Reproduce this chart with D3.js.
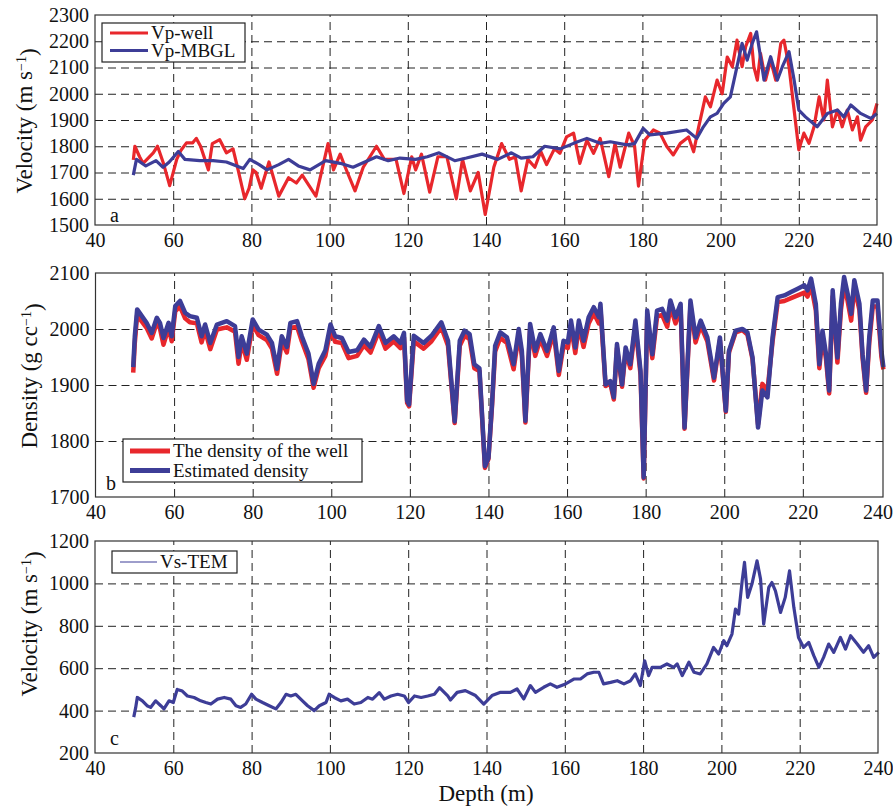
<!DOCTYPE html>
<html>
<head>
<meta charset="utf-8">
<script src="https://cdn.jsdelivr.net/npm/d3@7"></script>
<style>
  body { margin: 0; background: #fff; }
  svg text { font-family: "Liberation Serif", "Times New Roman", serif; fill: #111; }
</style>
</head>
<body>
<div id="chart"></div>
<script>
// panel a: P-wave velocity
var vpWellDepth = [49.8, 50.2, 51.4, 52.3, 54.9, 56, 57.5, 59.1, 60.9, 62, 63.4, 65, 65.9, 67, 69, 70, 71.9, 73.6, 75.3, 76.6,
    78.3, 79.4, 80.4, 81.2, 82.5, 84.5, 87, 89.5, 91.5, 93, 96.5, 99.6, 101, 102.7, 104, 106.5, 108.6, 112, 114, 117,
    119, 121, 122, 123.5, 125.6, 127.7, 130, 132.4, 134, 136, 138, 139.8, 142, 144, 146, 147.5, 149, 150.7, 152.5, 154,
    155.5, 157.5, 158.9, 160.6, 162.4, 164, 165.8, 167.5, 169.2, 171.4, 173, 174.3, 176.5, 178, 179, 180.6, 182.8, 184.5, 186.2, 187.9,
    189.7, 191.8, 193.1, 194.4, 196.1, 197.4, 199.1, 200.4, 201.7, 203, 204.2, 205.5, 206.4, 207.7, 208.5, 209.4, 210.2, 211.5, 212.8, 214.1,
    215.4, 216.2, 217.5, 218.8, 220, 221.3, 222.6, 223.9, 225.2, 226.4, 227.3, 228.6, 229.9, 231.1, 232.4, 233.7, 235, 235.8, 237.1, 238.8, 240];
var vpWell = [1748, 1800, 1760, 1735, 1775, 1800, 1735, 1650, 1750, 1785, 1813, 1813, 1830, 1800, 1710, 1810, 1825, 1775, 1790, 1710,
    1600, 1640, 1710, 1700, 1640, 1740, 1610, 1680, 1660, 1690, 1610, 1810, 1710, 1770, 1720, 1630, 1720, 1800, 1750, 1750,
    1620, 1760, 1710, 1770, 1625, 1760, 1760, 1600, 1750, 1630, 1700, 1540, 1720, 1810, 1750, 1760, 1630, 1750, 1720, 1780,
    1730, 1790, 1773, 1836, 1850, 1735, 1823, 1773, 1830, 1684, 1810, 1720, 1850, 1800, 1648, 1823, 1862, 1850, 1800, 1767,
    1811, 1835, 1779, 1874, 1988, 1950, 2052, 2000, 2140, 2103, 2204, 2103, 2179, 2230, 2103, 2052, 2154, 2052, 2128, 2052,
    2192, 2204, 2103, 1938, 1786, 1850, 1811, 1874, 1988, 1900, 2052, 1874, 1938, 1874, 1938, 1862, 1912, 1823, 1874, 1900, 1963];

var vpMbglDepth = [49.8, 50.6, 53, 55.6, 57.4, 59, 61.3, 63, 66.8, 70.2, 73.6, 77.9, 79.6, 82, 84, 87, 89.5, 92, 95, 99,
    102.7, 106, 109, 112, 115, 118, 122, 125, 128, 132, 135, 139, 143, 146.5, 149, 152, 155, 159, 162.4, 165.8,
    169.2, 171.8, 176, 178, 180.2, 181.9, 186.2, 191.3, 193.9, 195.6, 197.4, 199.1, 200.8, 202.5, 203.8, 205.5, 206.8, 208.1, 209.2, 210.2,
    211.1, 212.8, 214.5, 215.8, 217.5, 218.8, 220, 221.7, 224.7, 227.3, 229.9, 231.5, 233.3, 235.8, 238.4, 240];
var vpMbgl = [1690, 1750, 1725, 1745, 1720, 1740, 1780, 1750, 1745, 1745, 1740, 1715, 1750, 1730, 1710, 1730, 1750, 1725, 1710, 1745,
    1735, 1720, 1740, 1760, 1745, 1755, 1750, 1760, 1775, 1745, 1755, 1770, 1750, 1775, 1755, 1760, 1800, 1790, 1811, 1830,
    1811, 1817, 1805, 1810, 1868, 1843, 1850, 1862, 1830, 1874, 1912, 1925, 1963, 1988, 2077, 2192, 2128, 2192, 2236, 2141,
    2052, 2141, 2052, 2103, 2160, 2052, 1938, 1912, 1874, 1925, 1938, 1912, 1957, 1925, 1906, 1925];

// panel b: density
var rhoDepth = [49.6, 50, 50.6, 51.8, 53, 54.3, 55.6, 56.4, 57.3, 58.6, 59.4, 60.3, 61.5, 62.8, 64, 65.8, 67, 67.9, 69.2, 70.9,
    73.4, 75.5, 76.4, 77.2, 78.5, 80, 81.5, 83.6, 84.9, 86.2, 87.4, 88.7, 89.6, 91.3, 92.5, 94.2, 95.5, 96.8, 98.5, 99.8,
    101, 102.7, 104.4, 106.6, 108.3, 110, 112.1, 113.8, 115.9, 117.6, 118.5, 119.3, 119.8, 121, 123.5, 125.5, 128, 129.7, 131.4, 132.7,
    133.9, 135.2, 136.4, 137.7, 139.1, 140, 140.9, 141.7, 143, 144.7, 146.4, 147.7, 148.5, 149.4, 150.6, 151.9, 153.2, 154.9, 156.6, 157.9,
    159.1, 160.2, 161, 162.1, 163, 164.2, 165.5, 166.8, 168.1, 168.5, 169.8, 171, 171.9, 172.7, 174, 174.9, 176.1, 177.4, 178.7, 179.5,
    180.4, 181.7, 182.9, 184.2, 185.5, 186.3, 187.6, 188.9, 189.9, 191.4, 192.7, 194, 195.7, 197.4, 198.9, 200.4, 201.2, 202.9, 204.6, 205.9,
    207.2, 208.6, 209.7, 211, 212.3, 213.6, 215.3, 217, 218.7, 220.4, 221.2, 222.1, 223.3, 224.2, 225, 225.9, 226.7, 227.6, 228.8, 229.7,
    230.5, 231.4, 232.3, 233.1, 234.4, 235.2, 236.1, 236.9, 237.8, 239, 240, 240.5];
var rhoEstimated = [1932, 1987, 2035, 2023, 2011, 1993, 2020, 2011, 1984, 2011, 1987, 2041, 2050, 2029, 2023, 2020, 1987, 2008, 1975, 2008,
    2014, 2005, 1950, 1987, 1956, 2017, 1999, 1990, 1975, 1929, 1987, 1968, 2011, 2014, 1987, 1956, 1902, 1938, 1962, 2008,
    1987, 1984, 1959, 1962, 1981, 1968, 2005, 1975, 1987, 1975, 1993, 1872, 1865, 1988, 1975, 1988, 2012, 1979, 1835, 1979,
    1997, 1991, 1937, 1930, 1755, 1770, 1866, 1970, 1994, 1985, 1937, 2000, 1961, 1836, 2009, 1961, 1991, 1961, 2003, 1925,
    1979, 1976, 2015, 1967, 2015, 1979, 2021, 2039, 2021, 2045, 1901, 1907, 1878, 1973, 1901, 1967, 1937, 2015, 1925, 1735,
    2033, 1955, 2033, 2036, 2015, 2051, 2021, 2045, 1824, 2051, 1985, 2015, 1985, 1913, 1985, 1854, 1961, 1997, 2000, 1994,
    1949, 1824, 1890, 1878, 1985, 2057, 2060, 2066, 2072, 2078, 2069, 2090, 2045, 1937, 1997, 1955, 1890, 2069, 1949, 2045,
    2093, 2063, 2027, 2087, 2045, 1955, 1890, 1985, 2051, 2051, 1960, 1932];
var rhoWell = [1922, 1975, 2025, 2013, 2002, 1983, 2011, 2001, 1972, 2002, 1978, 2032, 2040, 2019, 2012, 2010, 1976, 1998, 1964, 1999,
    2003, 1995, 1938, 1977, 1945, 2008, 1989, 1980, 1965, 1920, 1977, 1958, 2002, 2004, 1978, 1946, 1895, 1930, 1952, 1999,
    1977, 1975, 1948, 1952, 1971, 1958, 1996, 1965, 1978, 1966, 1985, 1868, 1862, 1978, 1965, 1978, 2003, 1970, 1832, 1970,
    1988, 1982, 1930, 1925, 1752, 1768, 1862, 1960, 1984, 1975, 1928, 1990, 1952, 1833, 1999, 1952, 1982, 1952, 1994, 1918,
    1970, 1966, 2005, 1957, 2005, 1968, 2010, 2028, 2010, 2036, 1898, 1903, 1874, 1966, 1897, 1960, 1930, 2006, 1918, 1733,
    2024, 1948, 2022, 2025, 2004, 2040, 2010, 2036, 1822, 2042, 1976, 2006, 1978, 1908, 1980, 1852, 1958, 1994, 1998, 1990,
    1946, 1830, 1902, 1890, 1978, 2048, 2050, 2055, 2060, 2065, 2058, 2078, 2034, 1930, 1988, 1946, 1885, 2058, 1940, 2034,
    2080, 2050, 2015, 2075, 2034, 1948, 1886, 1975, 2040, 2040, 1950, 1928];

// panel c: shear-wave velocity
var vsDepth = [49.9, 50.4, 50.8, 52.1, 53.3, 54.2, 55.5, 56.8, 57.6, 58.9, 60, 61, 62.3, 63.6, 65.3, 67, 68.3, 69.6, 71.3, 73,
    74.7, 76, 77.2, 78.5, 80, 81.1, 82.8, 84.5, 86.2, 87.5, 88.8, 90, 91.3, 93, 94.3, 96, 97.3, 99, 99.8, 101.1,
    102.8, 104.5, 106.2, 107.9, 109.7, 110.9, 112.6, 113.9, 115.6, 117.3, 119, 120.1, 121.6, 123.3, 125, 126.7, 128, 130.1, 130.8, 132.5,
    134.6, 137.2, 139.3, 141.4, 143.6, 146.1, 147.8, 149.5, 151.2, 152.5, 154.6, 156.3, 158, 160.2, 162.3, 164, 165.7, 167.4, 168.7, 169.9,
    171.7, 173.4, 175.1, 176.8, 178, 179.3, 180.4, 181.4, 182.3, 184.4, 186.1, 187.8, 188.7, 190, 191.7, 193, 194.6, 196.3, 198, 199.3,
    200.6, 201.4, 202.7, 203.6, 204.4, 205.3, 205.9, 206.7, 207.8, 209.1, 210, 210.8, 212.1, 212.9, 213.8, 215.1, 216.3, 217.4, 218.5, 219.7,
    221, 222.3, 223.6, 224.9, 226.1, 227.4, 228.7, 230.4, 231.7, 233, 234.7, 236.3, 237.6, 238.9, 240.2];
var vsTem = [369, 415, 462, 446, 423, 415, 446, 423, 408, 446, 438, 500, 492, 469, 462, 446, 438, 431, 454, 462,
    454, 423, 415, 431, 477, 454, 438, 423, 408, 438, 477, 469, 477, 446, 423, 400, 423, 438, 477, 462,
    446, 454, 431, 438, 462, 454, 485, 454, 469, 477, 469, 438, 469, 462, 469, 477, 508, 469, 450, 486,
    494, 471, 431, 471, 486, 486, 502, 455, 518, 486, 510, 526, 510, 526, 549, 549, 573, 581, 581, 526,
    533, 541, 526, 541, 573, 518, 635, 565, 604, 604, 620, 604, 620, 565, 628, 581, 573, 620, 698, 667,
    730, 706, 761, 879, 855, 1012, 1099, 934, 997, 1106, 1020, 808, 981, 1004, 965, 863, 934, 1059, 887, 745,
    698, 722, 659, 604, 651, 714, 675, 745, 690, 753, 714, 675, 706, 651, 675];

var depthTicks = [40, 60, 80, 100, 120, 140, 160, 180, 200, 220, 240];
var vpTicks = [1500, 1600, 1700, 1800, 1900, 2000, 2100, 2200, 2300];
var rhoTicks = [1700, 1800, 1900, 2000, 2100];
var vsTicks = [200, 400, 600, 800, 1000, 1200];

var red = "#e8272c", blue = "#3d3d97";

var svg = d3.select("#chart").append("svg")
    .attr("width", 893)
    .attr("height", 809);

function zip(xs, ys) {
    return xs.map(function (x, i) { return [x, ys[i]]; });
}

function panel(p) {
    var x = d3.scaleLinear().domain(p.xDomain).range([p.left, p.right]);
    var y = d3.scaleLinear().domain(p.yDomain).range([p.bottom, p.top]);
    var g = svg.append("g");

    // dashed grid
    g.append("g")
        .attr("transform", "translate(0," + p.bottom + ")")
        .call(d3.axisBottom(x).tickValues(depthTicks.slice(1, -1)).tickSize(-(p.bottom - p.top)).tickFormat(""))
        .call(function (s) { s.select(".domain").remove(); });
    g.append("g")
        .attr("transform", "translate(" + p.left + ",0)")
        .call(d3.axisLeft(y).tickValues(p.yTicks.slice(1, -1)).tickSize(-(p.right - p.left)).tickFormat(""))
        .call(function (s) { s.select(".domain").remove(); });
    g.selectAll(".tick line")
        .attr("stroke", "#222")
        .attr("stroke-dasharray", "8,5");

    // tick labels
    var xa = g.append("g")
        .attr("transform", "translate(0," + p.bottom + ")")
        .call(d3.axisBottom(x).tickValues(depthTicks).tickSize(0).tickPadding(8).tickFormat(d3.format("d")));
    var ya = g.append("g")
        .attr("transform", "translate(" + p.left + ",0)")
        .call(d3.axisLeft(y).tickValues(p.yTicks).tickSize(0).tickPadding(6).tickFormat(d3.format("d")));
    [xa, ya].forEach(function (a) {
        a.select(".domain").remove();
        a.selectAll("text").attr("font-size", 20).attr("fill", "#111")
            .attr("font-family", "Liberation Serif, serif");
    });
    if (p.lastDx) xa.selectAll(".tick:last-of-type text").attr("dx", p.lastDx);

    var line = d3.line().x(function (d) { return x(d[0]); }).y(function (d) { return y(d[1]); });
    p.series.forEach(function (s) {
        g.append("path")
            .datum(zip(s.depth, s.values))
            .attr("fill", "none")
            .attr("stroke", s.color)
            .attr("stroke-width", s.width)
            .attr("stroke-linejoin", "round")
            .attr("d", line);
    });

    // frame
    g.append("rect")
        .attr("x", p.left).attr("y", p.top)
        .attr("width", p.right - p.left).attr("height", p.bottom - p.top)
        .attr("fill", "none").attr("stroke", "#333").attr("stroke-width", 1.2);

    // y label
    var yl = g.append("text")
        .attr("transform", "translate(" + p.labelX + "," + p.labelY + ") rotate(-90)")
        .attr("text-anchor", "middle")
        .attr("font-size", 23);
    yl.append("tspan").text(p.label);
    yl.append("tspan").attr("dy", "-0.45em").attr("font-size", 14).text("\u22121");
    yl.append("tspan").attr("dy", "0.45em").text(")");

    g.append("text").attr("x", p.letter[0]).attr("y", p.letter[1])
        .attr("font-size", 20).text(p.letterText);

    // legend
    var lg = p.legend;
    g.append("rect")
        .attr("x", lg.x).attr("y", lg.y).attr("width", lg.w).attr("height", lg.h)
        .attr("fill", "#fff").attr("stroke", "#222").attr("stroke-width", 1.2);
    lg.items.forEach(function (it, i) {
        var yy = lg.y + lg.first + i * lg.step;
        g.append("line")
            .attr("x1", lg.x + lg.pad).attr("x2", lg.x + lg.pad + lg.len)
            .attr("y1", yy).attr("y2", yy)
            .attr("stroke", it.color).attr("stroke-width", it.width);
        g.append("text")
            .attr("x", lg.x + lg.pad + lg.len + 3).attr("y", yy + 6)
            .attr("font-size", 19).text(it.name);
    });
}

panel({
    left: 95, right: 877, top: 15, bottom: 225,
    xDomain: [40, 240], yDomain: [1500, 2300], yTicks: vpTicks,
    label: "Velocity (m s", labelX: 32, labelY: 121,
    letter: [110, 222], letterText: "a",
    series: [
        { depth: vpWellDepth, values: vpWell, color: red, width: 3.2 },
        { depth: vpMbglDepth, values: vpMbgl, color: blue, width: 3.2 }
    ],
    legend: { x: 102, y: 23, w: 143, h: 39, pad: 8, len: 38, first: 10, step: 17.5,
        items: [{ name: "Vp-well", color: red, width: 3 }, { name: "Vp-MBGL", color: blue, width: 3 }] }
});

panel({
    left: 95.5, right: 883, top: 273, bottom: 497,
    xDomain: [40, 240.4], yDomain: [1700, 2100], yTicks: rhoTicks, lastDx: -4,
    label: "Density (g cc", labelX: 37, labelY: 376,
    letter: [106, 490], letterText: "b",
    series: [
        { depth: rhoDepth, values: rhoWell, color: red, width: 4.5 },
        { depth: rhoDepth, values: rhoEstimated, color: blue, width: 4.5 }
    ],
    legend: { x: 123, y: 439, w: 239, h: 43, pad: 7, len: 40, first: 12, step: 19.5,
        items: [{ name: "The density of the well", color: red, width: 5 }, { name: "Estimated density", color: blue, width: 5 }] }
});

panel({
    left: 95, right: 878, top: 541, bottom: 753,
    xDomain: [40, 240], yDomain: [200, 1200], yTicks: vsTicks,
    label: "Velocity (m s", labelX: 37, labelY: 624,
    letter: [110, 745], letterText: "c",
    series: [
        { depth: vsDepth, values: vsTem, color: blue, width: 3.2 }
    ],
    legend: { x: 112, y: 551, w: 125, h: 22, pad: 8, len: 37, first: 11, step: 17,
        items: [{ name: "Vs-TEM", color: blue, width: 1 }] }
});

svg.append("text")
    .attr("x", 486).attr("y", 801)
    .attr("text-anchor", "middle")
    .attr("font-size", 23)
    .text("Depth (m)");
</script>
</body>
</html>
